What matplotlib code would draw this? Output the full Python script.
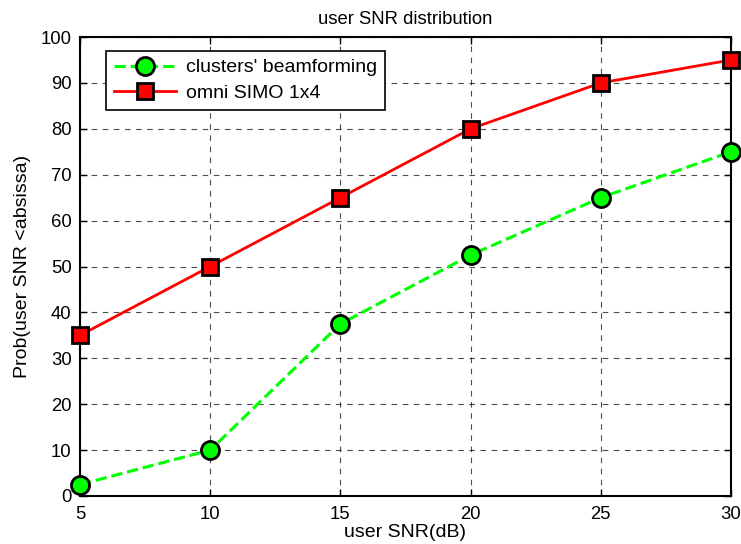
import matplotlib
matplotlib.use("Agg")
import matplotlib.pyplot as plt

plt.rcParams['font.family'] = ['Liberation Sans', 'DejaVu Sans']

snr_db = [5, 10, 15, 20, 25, 30]
clusters_bf = [2.5, 10, 37.5, 52.5, 65, 75]
omni_simo = [35, 50, 65, 80, 90, 95]

fig = plt.figure(figsize=(7.41, 5.44), dpi=100)
ax = fig.add_axes([80/741, 1-496/544, (731-80)/741, (496-37)/544])

ax.plot(snr_db, clusters_bf, linestyle='--', color='#00ff00', linewidth=2.2,
        marker='o', markersize=13, markerfacecolor='#00ff00', markeredgecolor='black',
        markeredgewidth=2, label="clusters' beamforming", clip_on=False, zorder=5)
ax.plot(snr_db, omni_simo, linestyle='-', color='#ff0000', linewidth=2,
        marker='s', markersize=11, markerfacecolor='#ff0000', markeredgecolor='black',
        markeredgewidth=2, label='omni SIMO 1x4', clip_on=False, zorder=5)

ax.set_xlim(5, 30)
ax.set_ylim(0, 100)
ax.set_xticks(snr_db)
ax.set_yticks(range(0, 101, 10))
ax.tick_params(direction='in', labelsize=13.3, length=5, width=1, top=True, right=True)
ax.tick_params(axis='x', pad=7)
ax.tick_params(axis='y', pad=6)
ax.grid(True, linestyle=(0, (5, 5)), color='black', linewidth=0.8, alpha=0.7)
for s in ax.spines.values():
    s.set_linewidth(1.5)

ax.set_title('user SNR distribution', fontsize=13.3, pad=9)
ax.set_xlabel('user SNR(dB)', fontsize=14, labelpad=1)
ax.set_ylabel('Prob(user SNR <absissa)', fontsize=14, labelpad=7)

leg = ax.legend(loc='upper left', bbox_to_anchor=(26/651, 1-14/459), fontsize=14,
                frameon=True, fancybox=False, edgecolor='black', framealpha=1,
                handlelength=3.2, handletextpad=0.5, borderpad=0.4, labelspacing=0.42,
                borderaxespad=0)
leg.get_frame().set_linewidth(1.2)

fig.savefig('out.png', dpi=100)
